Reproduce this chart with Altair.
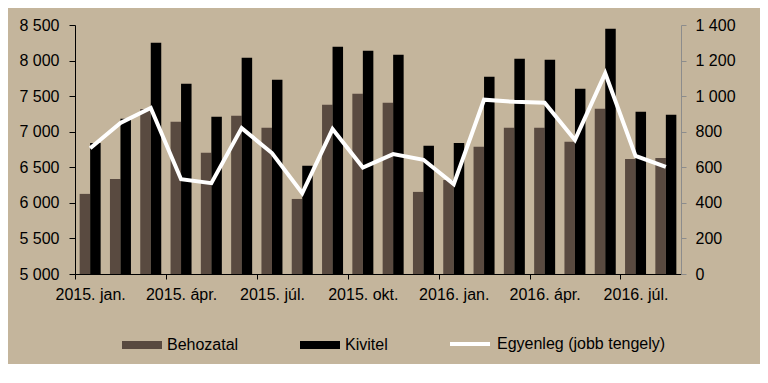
import altair as alt
import pandas as pd

months = ["2015. jan.", "2015. febr.", "2015. márc.", "2015. ápr.", "2015. máj.", "2015. jún.",
          "2015. júl.", "2015. aug.", "2015. szept.", "2015. okt.", "2015. nov.", "2015. dec.",
          "2016. jan.", "2016. febr.", "2016. márc.", "2016. ápr.", "2016. máj.", "2016. jún.",
          "2016. júl.", "2016. aug."]
behozatal = [6126, 6337, 7318, 7139, 6703, 7223, 7055, 6055, 7378, 7533,
             7406, 6154, 6323, 6787, 7055, 7055, 6858, 7322, 6618, 6632]
kivitel = [6840, 7181, 8251, 7674, 7209, 8040, 7730, 6520, 8194, 8138,
           8082, 6801, 6843, 7772, 8026, 8012, 7603, 8448, 7280, 7238]
egyenleg = [707, 849, 933, 533, 511, 820, 680, 454, 815, 599,
            674, 642, 505, 980, 968, 963, 754, 1128, 664, 602]
series_names = ["Behozatal", "Kivitel"]
line_name = "Egyenleg (jobb tengely)"
tick_months = ["2015. jan.", "2015. ápr.", "2015. júl.", "2015. okt.",
               "2016. jan.", "2016. ápr.", "2016. júl."]
left_ticks = [5000, 5500, 6000, 6500, 7000, 7500, 8000, 8500]
right_ticks = [0, 200, 400, 600, 800, 1000, 1200, 1400]

bars_df = pd.DataFrame({
    "month": months * 2,
    "series": [series_names[0]] * len(months) + [series_names[1]] * len(months),
    "value": behozatal + kivitel,
})
line_df = pd.DataFrame({"month": months, "series": [line_name] * len(months), "value": egyenleg})

FONT = "Liberation Sans"
W, H = 606, 249
step = W / len(months)
fmt = "replace(format(datum.value, ','), ',', ' ')"

x_axis = alt.Axis(values=tick_months, title=None, labelAngle=0, tickOffset=-step / 2,
                  labelOffset=step / 2, tickSize=5, labelPadding=7, domainColor="black",
                  tickColor="black")
x_scale = alt.Scale(paddingInner=0.307, paddingOuter=0.1535)

bars = alt.Chart(bars_df).mark_bar().encode(
    x=alt.X("month:N", sort=months, scale=x_scale, axis=x_axis),
    xOffset=alt.XOffset("series:N", sort=series_names,
                        scale=alt.Scale(paddingInner=0, paddingOuter=0)),
    y=alt.Y("value:Q", scale=alt.Scale(domain=[5000, 8500], zero=False, nice=False),
            axis=alt.Axis(values=left_ticks, labelExpr=fmt, title=None, tickSize=6,
                          labelPadding=10, domainColor="black", tickColor="black")),
    y2=alt.datum(5000),
    color=alt.Color("series:N", sort=series_names,
                    scale=alt.Scale(domain=series_names, range=["#594a40", "#000000"]),
                    legend=alt.Legend(orient="none", legendX=47, legendY=300, direction="horizontal",
                                      title=None, symbolType="M-1,-0.2L1,-0.2L1,0.2L-1,0.2Z",
                                      symbolSize=1600, symbolStrokeWidth=0, symbolOpacity=1,
                                      labelOffset=5, columnPadding=61, padding=0,
                                      labelLimit=0)),
)

line = alt.Chart(line_df).mark_line(strokeWidth=4).encode(
    x=alt.X("month:N", sort=months, scale=x_scale, axis=x_axis),
    y=alt.Y("value:Q", scale=alt.Scale(domain=[0, 1400], nice=False),
            axis=alt.Axis(orient="right", values=right_ticks, labelExpr=fmt, title=None,
                          tickSize=5, labelPadding=9, domainColor="#8c8c8c",
                          tickColor="#8c8c8c")),
    stroke=alt.Stroke("series:N", scale=alt.Scale(domain=[line_name], range=["#ffffff"]),
                      legend=alt.Legend(orient="none", legendX=373, legendY=297, title=None,
                                        symbolType="stroke", symbolSize=1600,
                                        symbolStrokeWidth=4, labelOffset=5, padding=0,
                                        labelLimit=0)),
)

chart = alt.layer(bars, line).resolve_scale(y="independent").properties(
    width=W, height=H,
    autosize=alt.AutoSizeParams(type="none"),
    padding={"left": 67, "top": 17, "right": 79, "bottom": 90},
    background="#c4b59c",
).configure_view(stroke=None).configure_axis(
    grid=False, labelFont=FONT, labelFontSize=16, labelColor="black"
).configure_legend(
    labelFont=FONT, labelFontSize=16, labelColor="black"
)

chart.save("out.html", embed_options={"renderer": "svg", "actions": False})
